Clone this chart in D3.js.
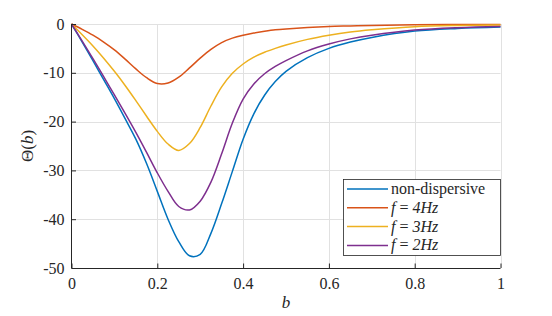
<!DOCTYPE html>
<html>
<head>
<meta charset="utf-8">
<script src="https://cdn.jsdelivr.net/npm/d3@7"></script>
<style>
  html, body { margin: 0; padding: 0; background: #fff; }
  svg { display: block; }
</style>
</head>
<body>
<svg id="chart" width="552" height="316"></svg>
<script>
// ---- data ----
const bValues = [0, 0.025, 0.05, 0.075, 0.1, 0.125, 0.15, 0.175, 0.2, 0.225, 0.25, 0.275, 0.3, 0.325, 0.35, 0.375, 0.4, 0.425, 0.45, 0.475, 0.5, 0.55, 0.6, 0.65, 0.7, 0.8, 0.9, 1.0];
const nonDispersive = [0, -3.7, -7.5, -11.4, -15.3, -19.4, -23.6, -28.6, -34.3, -40.0, -44.6, -47.5, -47.2, -42.9, -36.8, -30.2, -23.6, -18.4, -14.6, -11.8, -9.7, -6.9, -5.0, -3.7, -2.75, -1.45, -0.9, -0.6];
const f4Hz = [0, -1.1, -2.3, -3.7, -5.3, -7.2, -9.2, -11.0, -12.2, -12.1, -10.9, -9.0, -7.0, -5.2, -3.8, -2.9, -2.3, -1.85, -1.5, -1.2, -1.0, -0.7, -0.5, -0.4, -0.3, -0.15, -0.1, -0.08];
const f3Hz = [0, -2.2, -4.5, -7.0, -9.7, -12.6, -15.7, -18.9, -22.0, -24.6, -25.9, -24.5, -21.2, -16.8, -12.9, -10.1, -8.2, -6.8, -5.8, -5.0, -4.3, -3.15, -2.3, -1.65, -1.2, -0.55, -0.3, -0.2];
const f2Hz = [0, -3.5, -7.1, -10.8, -14.5, -18.3, -22.2, -26.3, -30.5, -34.3, -37.4, -38.1, -36.3, -32.4, -26.6, -20.3, -15.4, -12.3, -10.2, -8.7, -7.5, -5.5, -4.1, -3.05, -2.3, -1.25, -0.75, -0.5];
const seriesNames = ["non-dispersive", "f = 4Hz", "f = 3Hz", "f = 2Hz"];
const seriesColors = ["#0072BD", "#D95319", "#EDB120", "#7E2F8E"];
const xTicks = [0, 0.2, 0.4, 0.6, 0.8, 1];
const yTicks = [0, -10, -20, -30, -40, -50];

const seriesValues = [nonDispersive, f4Hz, f3Hz, f2Hz];

// ---- layout ----
const svg = d3.select("#chart");
const pLeft = 71.5, pRight = 500.5, pTop = 24, pBottom = 268;
const x = d3.scaleLinear().domain([0, 1]).range([pLeft, pRight]);
const y = d3.scaleLinear().domain([-50, 0]).range([pBottom, pTop]);
const axisColor = "#262626";
const gridColor = "#e1e1e1";
const FONT = "Liberation Serif";

svg.append("rect").attr("width", 552).attr("height", 316).attr("fill", "#fff");

// grid
const grid = svg.append("g");
grid.selectAll("line.vx").data(xTicks.filter(d => d > 0)).enter().append("line")
  .attr("x1", d => Math.round(x(d)) + 0.5).attr("x2", d => Math.round(x(d)) + 0.5)
  .attr("y1", pTop).attr("y2", pBottom)
  .attr("stroke", gridColor).attr("stroke-width", 1);
grid.selectAll("line.hy").data(yTicks.filter(d => d > -50)).enter().append("line")
  .attr("x1", pLeft).attr("x2", pRight)
  .attr("y1", d => Math.round(y(d)) + 0.5).attr("y2", d => Math.round(y(d)) + 0.5)
  .attr("stroke", gridColor).attr("stroke-width", 1);

// curves
const line = d3.line()
  .x((d, i) => x(bValues[i]))
  .y(d => y(d))
  .curve(d3.curveCatmullRom.alpha(0.5));

const curves = svg.append("g");
seriesValues.forEach((vals, k) => {
  curves.append("path")
    .attr("d", line(vals))
    .attr("fill", "none")
    .attr("stroke", seriesColors[k])
    .attr("stroke-width", 1.5)
    .attr("stroke-linejoin", "round");
});

// axes (box off, ticks inward)
const xAxis = d3.axisBottom(x).tickValues(xTicks).tickSize(-4.5).tickPadding(8)
  .tickFormat(d => d3.format("~g")(d));
const gx = svg.append("g").attr("transform", `translate(0,${pBottom})`).call(xAxis)
  .attr("font-family", FONT);
gx.select(".domain").attr("stroke", axisColor).attr("stroke-width", 1).attr("d", `M${pLeft},0.5H${pRight}`);
gx.selectAll(".tick line").attr("stroke", axisColor).attr("stroke-width", 1);
gx.selectAll(".tick text").attr("font-family", FONT).attr("font-size", 16).attr("fill", axisColor)
  .attr("dy", "0.71em").attr("y", 10);

const yAxis = d3.axisLeft(y).tickValues(yTicks).tickSize(-4.5).tickPadding(7)
  .tickFormat(d => d === 0 ? "0" : "-" + Math.abs(d));
const gy = svg.append("g").attr("transform", `translate(${pLeft},0)`).call(yAxis)
  .attr("font-family", FONT);
gy.select(".domain").attr("stroke", axisColor).attr("stroke-width", 1).attr("d", `M0,${pTop}V${pBottom}`);
gy.selectAll(".tick line").attr("stroke", axisColor).attr("stroke-width", 1);
gy.selectAll(".tick text").attr("font-family", FONT).attr("font-size", 16).attr("fill", axisColor);

// axis labels
svg.append("text").attr("x", (pLeft + pRight) / 2).attr("y", 308)
  .attr("font-family", FONT).attr("fill", axisColor)
  .attr("text-anchor", "middle").attr("font-size", 17).attr("font-style", "italic").text("b");

const yl = svg.append("text").attr("transform", `translate(33,${(pTop + pBottom) / 2}) rotate(-90)`)
  .attr("font-family", FONT).attr("fill", axisColor)
  .attr("text-anchor", "middle").attr("font-size", 17);
yl.append("tspan").text("Θ(");
yl.append("tspan").attr("font-style", "italic").text("b");
yl.append("tspan").text(")");

// legend
const lg = svg.append("g");
lg.append("rect").attr("x", 343.5).attr("y", 179.5).attr("width", 157).attr("height", 76)
  .attr("fill", "#fff").attr("stroke", axisColor).attr("stroke-width", 0.8);
const rowY = [189, 207.8, 226.6, 245.4];
seriesNames.forEach((name, k) => {
  lg.append("line").attr("x1", 347).attr("x2", 388).attr("y1", rowY[k]).attr("y2", rowY[k])
    .attr("stroke", seriesColors[k]).attr("stroke-width", 1.5);
  const t = lg.append("text").attr("x", 391).attr("y", rowY[k] + 5)
    .attr("font-family", FONT).attr("fill", axisColor).attr("font-size", 16);
  if (k === 0) {
    t.text(name);
  } else {
    const parts = name.split(" = ");
    t.append("tspan").attr("font-style", "italic").text(parts[0]);
    t.append("tspan").text(" = ");
    t.append("tspan").attr("font-style", "italic").text(parts[1]);
  }
});
</script>
</body>
</html>
